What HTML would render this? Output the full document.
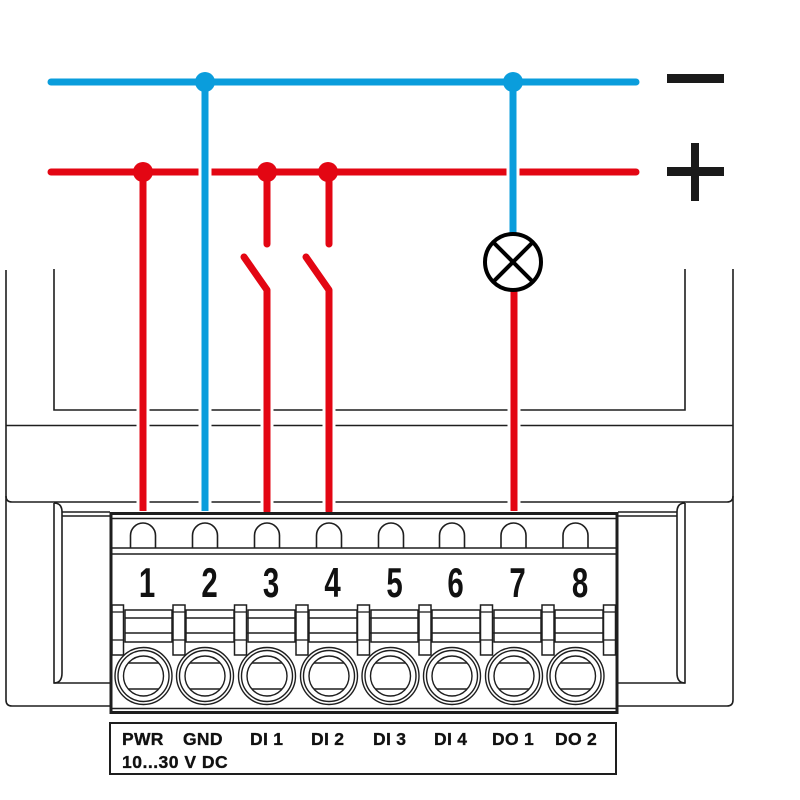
<!DOCTYPE html>
<html><head><meta charset="utf-8"><style>
html,body{margin:0;padding:0;background:#fff;}
svg{display:block;}
</style></head><body>
<svg width="800" height="800" viewBox="0 0 800 800" xmlns="http://www.w3.org/2000/svg">
<rect width="800" height="800" fill="#fff"/>
<!-- housing -->
<g fill="none" stroke="#1e1e1e" stroke-width="1.6">
  <path d="M6,270 L6,700 Q6,706 12,706 L110,706"/>
  <path d="M733,269 L733,700 Q733,706 727,706 L618,706"/>
  <path d="M6,496 Q6,502 12,502 L727,502 Q733,502 733,496"/>
  <path d="M54,269 L54,410 L685,410 L685,269"/>
  <line x1="6" y1="425.5" x2="733" y2="425.5"/>
  <path d="M54,503 L54,683 L110,683"/>
  <path d="M54,503 Q62,503 62,512 L62,673 Q62,683 54,683"/>
  <line x1="62" y1="512" x2="110" y2="512"/>
  <line x1="62" y1="516" x2="110" y2="516"/>
  <path d="M685,503 L685,683 L618,683"/>
  <path d="M685,503 Q677,503 677,512 L677,673 Q677,683 685,683"/>
  <line x1="618" y1="512" x2="677" y2="512"/>
  <line x1="618" y1="516" x2="677" y2="516"/>
</g>

<!-- wires: white halos -->
<g stroke="#fff" stroke-width="13" fill="none" stroke-linecap="round">
  <line x1="143" y1="182" x2="143" y2="510"/>
  <line x1="267" y1="290" x2="267" y2="510"/>
  <line x1="329" y1="290" x2="329" y2="510"/>
  <line x1="244" y1="257" x2="267" y2="290"/>
  <line x1="306" y1="257" x2="329" y2="290"/>
  <line x1="514" y1="292" x2="514" y2="510"/>
</g>
<!-- buses -->
<line x1="51" y1="172" x2="636" y2="172" stroke="#e30613" stroke-width="7" stroke-linecap="round"/>
<line x1="51" y1="82" x2="636" y2="82" stroke="#0a9ddc" stroke-width="7" stroke-linecap="round"/>
<g stroke="#fff" stroke-width="13" fill="none">
  <line x1="205" y1="90" x2="205" y2="510"/>
  <line x1="513" y1="90" x2="513" y2="232"/>
</g>
<!-- red wires -->
<g stroke="#e30613" stroke-width="7" fill="none" stroke-linecap="round" stroke-linejoin="round">
  <path d="M143,172 L143,511" stroke-linecap="butt"/>
  <path d="M267,172 L267,244"/>
  <path d="M329,172 L329,244"/>
  <path d="M244,257 L267,290 L267,511"/>
  <path d="M306,257 L329,290 L329,511"/>
  <path d="M514,291 L514,511" stroke-linecap="butt"/>
</g>
<g stroke="#0a9ddc" stroke-width="7" fill="none">
  <line x1="205" y1="82" x2="205" y2="511"/>
  <line x1="513" y1="82" x2="513" y2="233"/>
</g>
<!-- dots -->
<g fill="#0a9ddc">
  <circle cx="205" cy="82" r="10"/>
  <circle cx="513" cy="82" r="10"/>
</g>
<g fill="#e30613">
  <circle cx="143" cy="172" r="10"/>
  <circle cx="267" cy="172" r="10"/>
  <circle cx="328" cy="172" r="10"/>
</g>
<!-- lamp -->
<g stroke="#000" stroke-width="4" fill="#fff">
  <circle cx="513" cy="262" r="28"/>
  <line x1="493.2" y1="242.2" x2="532.8" y2="281.8"/>
  <line x1="532.8" y1="242.2" x2="493.2" y2="281.8"/>
</g>
<!-- minus / plus -->
<rect x="667" y="74" width="57" height="9" fill="#1a1a1a"/>
<rect x="667" y="167" width="57" height="9" fill="#1a1a1a"/>
<rect x="691" y="143" width="8" height="58" fill="#1a1a1a"/>

<!-- terminal block -->
<g fill="none" stroke="#1e1e1e">
  <rect x="111" y="513.5" width="506" height="199" fill="#fff" stroke-width="3"/>
  <line x1="112" y1="518.5" x2="616" y2="518.5" stroke-width="1.5"/>
  <line x1="112" y1="548" x2="616" y2="548" stroke-width="1.6"/>
  <line x1="112" y1="554" x2="616" y2="554" stroke-width="1.6"/>
  <line x1="112" y1="708.5" x2="616" y2="708.5" stroke-width="1.6"/>
</g>
<!-- arches -->
<g fill="none" stroke="#1e1e1e" stroke-width="1.6">
  <path d="M130.5,548 L130.5,535.5 A12.5,12.5 0 0 1 155.5,535.5 L155.5,548"/>
  <path d="M192.5,548 L192.5,535.5 A12.5,12.5 0 0 1 217.5,535.5 L217.5,548"/>
  <path d="M254.5,548 L254.5,535.5 A12.5,12.5 0 0 1 279.5,535.5 L279.5,548"/>
  <path d="M316.5,548 L316.5,535.5 A12.5,12.5 0 0 1 341.5,535.5 L341.5,548"/>
  <path d="M378.5,548 L378.5,535.5 A12.5,12.5 0 0 1 403.5,535.5 L403.5,548"/>
  <path d="M439.5,548 L439.5,535.5 A12.5,12.5 0 0 1 464.5,535.5 L464.5,548"/>
  <path d="M501,548 L501,535.5 A12.5,12.5 0 0 1 526,535.5 L526,548"/>
  <path d="M563,548 L563,535.5 A12.5,12.5 0 0 1 588,535.5 L588,548"/>
</g>
<!-- numbers -->
<g font-family="'Liberation Sans', sans-serif" font-weight="bold" font-size="42" fill="#111" text-anchor="middle">
  <text transform="translate(147,597) scale(0.7,1)">1</text>
  <text transform="translate(209.5,597) scale(0.7,1)">2</text>
  <text transform="translate(271,597) scale(0.7,1)">3</text>
  <text transform="translate(332.5,597) scale(0.7,1)">4</text>
  <text transform="translate(394.5,597) scale(0.7,1)">5</text>
  <text transform="translate(455.5,597) scale(0.7,1)">6</text>
  <text transform="translate(517.5,597) scale(0.7,1)">7</text>
  <text transform="translate(580,597) scale(0.7,1)">8</text>
</g>
<!-- bars between tabs -->
<g fill="#fff" stroke="#1e1e1e" stroke-width="1.5">
  <rect x="125" y="610" width="47" height="32"/>
  <rect x="186" y="610" width="48" height="32"/>
  <rect x="248" y="610" width="47" height="32"/>
  <rect x="309" y="610" width="48" height="32"/>
  <rect x="371" y="610" width="47" height="32"/>
  <rect x="432" y="610" width="48" height="32"/>
  <rect x="494" y="610" width="47" height="32"/>
  <rect x="555" y="610" width="48" height="32"/>
</g>
<g stroke="#1e1e1e" stroke-width="1.5">
  <line x1="125" y1="618" x2="603" y2="618"/>
  <line x1="125" y1="633" x2="603" y2="633"/>
</g>
<!-- tabs -->
<g fill="#fff" stroke="#1e1e1e" stroke-width="1.5">
  <rect x="112" y="605" width="11.5" height="50"/>
  <rect x="173" y="605" width="12" height="50"/>
  <rect x="234.5" y="605" width="12" height="50"/>
  <rect x="296" y="605" width="12" height="50"/>
  <rect x="357.5" y="605" width="12" height="50"/>
  <rect x="419" y="605" width="12" height="50"/>
  <rect x="480.5" y="605" width="12" height="50"/>
  <rect x="542" y="605" width="12" height="50"/>
  <rect x="603.5" y="605" width="12" height="50"/>
</g>
<g stroke="#1e1e1e" stroke-width="1.3">
  <line x1="112" y1="612" x2="123.5" y2="612"/><line x1="112" y1="640" x2="123.5" y2="640"/>
  <line x1="173" y1="612" x2="185" y2="612"/><line x1="173" y1="640" x2="185" y2="640"/>
  <line x1="234.5" y1="612" x2="246.5" y2="612"/><line x1="234.5" y1="640" x2="246.5" y2="640"/>
  <line x1="296" y1="612" x2="308" y2="612"/><line x1="296" y1="640" x2="308" y2="640"/>
  <line x1="357.5" y1="612" x2="369.5" y2="612"/><line x1="357.5" y1="640" x2="369.5" y2="640"/>
  <line x1="419" y1="612" x2="431" y2="612"/><line x1="419" y1="640" x2="431" y2="640"/>
  <line x1="480.5" y1="612" x2="492.5" y2="612"/><line x1="480.5" y1="640" x2="492.5" y2="640"/>
  <line x1="542" y1="612" x2="554" y2="612"/><line x1="542" y1="640" x2="554" y2="640"/>
  <line x1="603.5" y1="612" x2="615.5" y2="612"/><line x1="603.5" y1="640" x2="615.5" y2="640"/>
</g>
<!-- screws -->
<g fill="#fff" stroke="#1e1e1e" stroke-width="1.4">
  <g transform="translate(143.5,676)"><circle r="28.5"/><circle r="25.5"/><circle r="20"/><line x1="-15" y1="-13" x2="15" y2="-13"/><line x1="-15" y1="13" x2="15" y2="13"/></g>
  <g transform="translate(205,676)"><circle r="28.5"/><circle r="25.5"/><circle r="20"/><line x1="-15" y1="-13" x2="15" y2="-13"/><line x1="-15" y1="13" x2="15" y2="13"/></g>
  <g transform="translate(267,676)"><circle r="28.5"/><circle r="25.5"/><circle r="20"/><line x1="-15" y1="-13" x2="15" y2="-13"/><line x1="-15" y1="13" x2="15" y2="13"/></g>
  <g transform="translate(329,676)"><circle r="28.5"/><circle r="25.5"/><circle r="20"/><line x1="-15" y1="-13" x2="15" y2="-13"/><line x1="-15" y1="13" x2="15" y2="13"/></g>
  <g transform="translate(390.5,676)"><circle r="28.5"/><circle r="25.5"/><circle r="20"/><line x1="-15" y1="-13" x2="15" y2="-13"/><line x1="-15" y1="13" x2="15" y2="13"/></g>
  <g transform="translate(452,676)"><circle r="28.5"/><circle r="25.5"/><circle r="20"/><line x1="-15" y1="-13" x2="15" y2="-13"/><line x1="-15" y1="13" x2="15" y2="13"/></g>
  <g transform="translate(514,676)"><circle r="28.5"/><circle r="25.5"/><circle r="20"/><line x1="-15" y1="-13" x2="15" y2="-13"/><line x1="-15" y1="13" x2="15" y2="13"/></g>
  <g transform="translate(575.5,676)"><circle r="28.5"/><circle r="25.5"/><circle r="20"/><line x1="-15" y1="-13" x2="15" y2="-13"/><line x1="-15" y1="13" x2="15" y2="13"/></g>
</g>
<!-- label box -->
<rect x="110" y="723" width="506" height="51" fill="#fff" stroke="#1e1e1e" stroke-width="2"/>
<g font-family="'Liberation Sans', sans-serif" font-weight="bold" font-size="17.5" fill="#111" stroke="#111" stroke-width="0.35" letter-spacing="0.3">
  <text x="122" y="745">PWR</text>
  <text x="183" y="745">GND</text>
  <text x="250" y="745">DI 1</text>
  <text x="311" y="745">DI 2</text>
  <text x="373" y="745">DI 3</text>
  <text x="434" y="745">DI 4</text>
  <text x="492" y="745">DO 1</text>
  <text x="555" y="745">DO 2</text>
  <text x="122" y="768" letter-spacing="0.5">10...30 V DC</text>
</g>
</svg>
</body></html>
